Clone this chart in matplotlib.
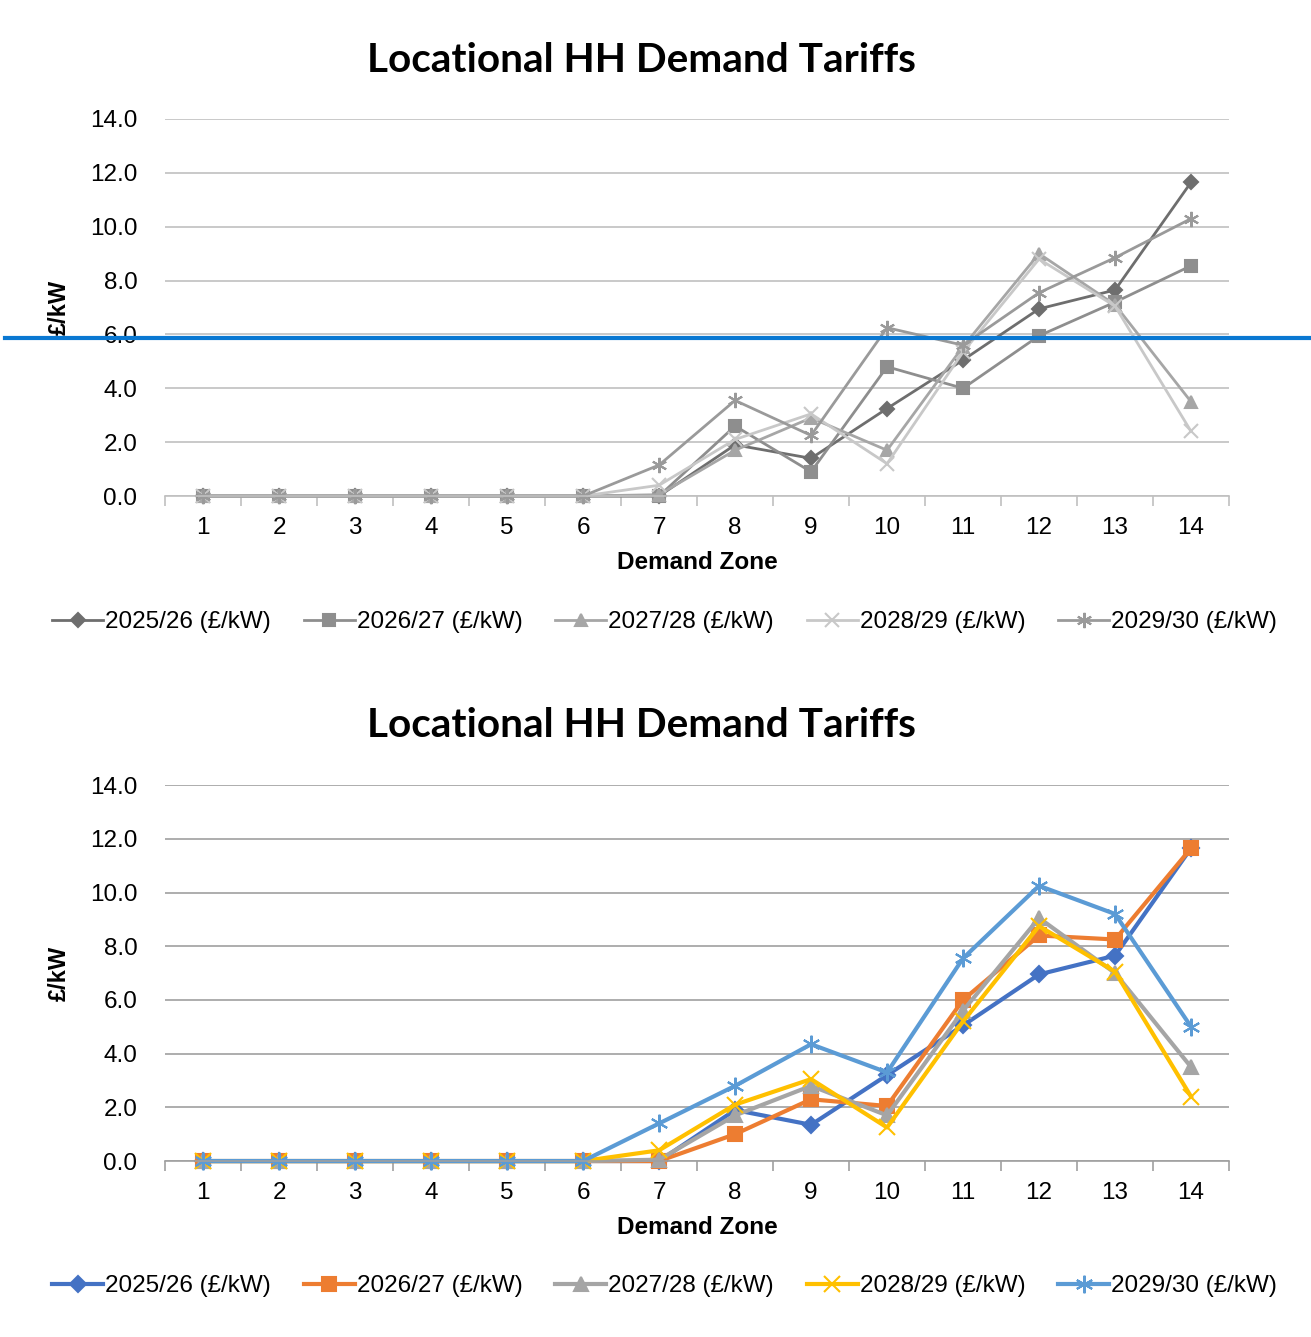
"""
Locational HH Demand Tariffs: a greyscale chart and a coloured chart, one above the other.
"""

import matplotlib.pyplot as plt
from matplotlib.lines import Line2D

# Demand zones on the x axis
zones = list(range(1, 15))

# Series names
series = ["2025/26 (£/kW)", "2026/27 (£/kW)", "2027/28 (£/kW)", "2028/29 (£/kW)", "2029/30 (£/kW)"]

# Upper chart (greyscale)
top_2025 = [0, 0, 0, 0, 0, 0, 0.0, 1.9, 1.4, 3.25, 5.05, 6.95, 7.65, 11.65]
top_2026 = [0, 0, 0, 0, 0, 0, 0.0, 2.6, 0.9, 4.8, 4.0, 5.95, 7.2, 8.55]
top_2027 = [0, 0, 0, 0, 0, 0, 0.05, 1.7, 2.9, 1.7, 5.55, 9.0, 7.1, 3.5]
top_2028 = [0, 0, 0, 0, 0, 0, 0.4, 2.1, 3.05, 1.2, 5.35, 8.8, 7.05, 2.4]
top_2029 = [0, 0, 0, 0, 0, 0, 1.15, 3.55, 2.25, 6.25, 5.6, 7.55, 8.85, 10.3]

# Lower chart (colour)
bot_2025 = [0, 0, 0, 0, 0, 0, 0.0, 1.9, 1.35, 3.2, 5.05, 6.95, 7.65, 11.65]
bot_2026 = [0, 0, 0, 0, 0, 0, 0.0, 1.0, 2.3, 2.05, 6.0, 8.4, 8.25, 11.65]
bot_2027 = [0, 0, 0, 0, 0, 0, 0.05, 1.7, 2.8, 1.7, 5.6, 9.05, 7.0, 3.5]
bot_2028 = [0, 0, 0, 0, 0, 0, 0.4, 2.1, 3.05, 1.25, 5.2, 8.75, 7.05, 2.4]
bot_2029 = [0, 0, 0, 0, 0, 0, 1.4, 2.8, 4.35, 3.3, 7.55, 10.25, 9.2, 5.0]

markers = ["D", "s", "^", "x", (6, 2, 0)]
marker_sizes = [7, 9, 9, 10, 11]
grey_colours = ["#6e6e6e", "#8e8e8e", "#a6a6a6", "#c8c8c8", "#9a9a9a"]
colours = ["#4472C4", "#ED7D31", "#A5A5A5", "#FFC000", "#5B9BD5"]

plt.rcParams["font.family"] = ["Liberation Sans", "DejaVu Sans"]

fig = plt.figure(figsize=(13.11, 13.37), dpi=100)


def draw_chart(ax, data, cols, lw, ms_scale, grid_col, title_y, legend_y):
    for vals, name, col, mk, ms in zip(data, series, cols, markers, marker_sizes):
        ax.plot(zones, vals, color=col, linewidth=lw, marker=mk, markersize=ms * ms_scale,
                markeredgewidth=1.5, label=name, clip_on=False)
    ax.set_xlim(0.5, 14.5)
    ax.set_ylim(0, 14)
    ax.set_yticks([0, 2, 4, 6, 8, 10, 12, 14])
    ax.set_yticklabels([f"{v:.1f}" for v in ax.get_yticks()], fontsize=17.5)
    ax.set_xticks(zones)
    ax.set_xticklabels([str(z) for z in zones], fontsize=17.5)
    ax.set_xticks([z + 0.5 for z in range(0, 15)], minor=True)
    ax.tick_params(axis="x", which="major", length=0, pad=15)
    ax.tick_params(axis="x", which="minor", length=7, color=grid_col, width=1.2)
    ax.tick_params(axis="y", length=0, pad=20)
    ax.grid(axis="y", color=grid_col, linewidth=1.2)
    ax.set_axisbelow(True)
    for side in ["top", "right", "left"]:
        ax.spines[side].set_visible(False)
    ax.spines["bottom"].set_color(grid_col)
    ax.spines["bottom"].set_linewidth(1.2)
    ax.set_xlabel("Demand Zone", fontsize=17.5, fontweight="bold", labelpad=9)
    ax.set_ylabel("£/kW", fontsize=17, fontweight="bold", labelpad=14)
    fig.text(0.489, title_y, "Locational HH Demand Tariffs", fontsize=29.2,
             fontweight="bold", family=["Lato", "DejaVu Sans"], ha="center", va="center")
    ax.legend(loc="center", bbox_to_anchor=(0.507, legend_y), bbox_transform=fig.transFigure,
              ncol=5, frameon=False, fontsize=17.5, handlelength=2.1, handletextpad=0.08,
              columnspacing=1.35)


# Upper chart
ax1 = fig.add_axes([0.1259, 0.629, 0.8116, 0.282])
draw_chart(ax1, [top_2025, top_2026, top_2027, top_2028, top_2029],
           grey_colours, 2.0, 1.0, "#c0c0c0", 1 - 61 / 1337, 1 - 622 / 1337)

# Lower chart
ax2 = fig.add_axes([0.1259, 0.1316, 0.8116, 0.2812])
draw_chart(ax2, [bot_2025, bot_2026, bot_2027, bot_2028, bot_2029],
           colours, 3.0, 1.15, "#a0a0a0", 1 - 726 / 1337, 1 - 1286 / 1337)

# Blue marker line drawn across the upper chart
fig.add_artist(Line2D([5 / 1311, 1.0], [1 - 338 / 1337, 1 - 338 / 1337],
                      color="#0a78d2", linewidth=3.0, transform=fig.transFigure))

plt.savefig("out.png", dpi=100)
